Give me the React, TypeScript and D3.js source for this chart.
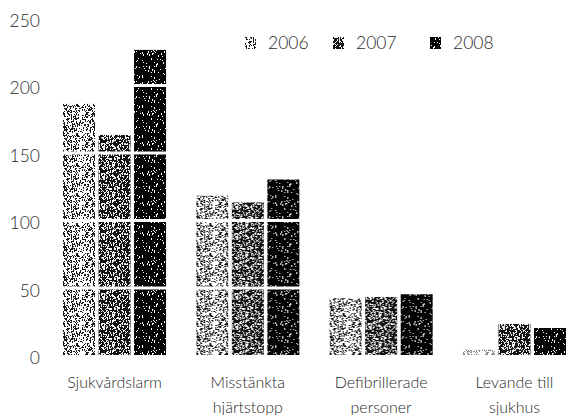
import React, { useEffect, useRef } from "react";
import * as d3 from "d3";

// Categories (label lines) and series
const categories = ["Sjukvårdslarm", "Misstänkta hjärtstopp", "Defibrillerade personer", "Levande till sjukhus"];
const categoryLines = [["Sjukvårdslarm"], ["Misstänkta", "hjärtstopp"], ["Defibrillerade", "personer"], ["Levande till", "sjukhus"]];
const years = ["2006", "2007", "2008"];
const values2006 = [186, 118, 42, 4];
const values2007 = [163, 113, 43, 23];
const values2008 = [226, 130, 45, 20];
const yTicks = [0, 50, 100, 150, 200, 250];

const W = 572;
const H = 415;

// texture settings per series: background, speckle colour, speckle density
const textures = [
  { bg: "#ffffff", fg: "#1a1a1a", density: 0.3 },
  { bg: "#141414", fg: "#f4f4f4", density: 0.3 },
  { bg: "#030303", fg: "#ffffff", density: 0.07 },
];

// small deterministic hash for the speckle texture
function hash(i: number, seed: number) {
  const x = Math.sin(i * 12.9898 + seed * 78.233) * 43758.5453;
  return x - Math.floor(x);
}

export default function App() {
  const svgRef = useRef<SVGSVGElement>(null);

  useEffect(() => {
    if (!svgRef.current) return;
    const svg = d3.select(svgRef.current);
    svg.selectAll("*").remove();

    const font = "Lato, 'Open Sans', sans-serif";
    const textColor = "#2a2a2a";

    const series = [values2006, values2007, values2008];

    const x0 = d3.scaleBand<string>()
      .domain(categories)
      .range([48, 581])
      .paddingInner(0.227)
      .paddingOuter(0.1125);

    const x1 = d3.scaleBand<string>()
      .domain(years)
      .range([0, x0.bandwidth()])
      .paddingInner(0.1);

    const y = d3.scaleLinear().domain([0, 250]).range([355, 17.5]);

    // textures
    const defs = svg.append("defs");
    const tile = 30;
    textures.forEach((t, si) => {
      const p = defs.append("pattern")
        .attr("id", `tex${si}`)
        .attr("patternUnits", "userSpaceOnUse")
        .attr("width", tile)
        .attr("height", tile);
      p.append("rect").attr("width", tile).attr("height", tile).attr("fill", t.bg);
      for (let yy = 0; yy < tile; yy++) {
        for (let xx = 0; xx < tile; xx++) {
          const r = hash(yy * tile + xx, si + 1);
          if (r < t.density) {
            p.append("rect")
              .attr("x", xx)
              .attr("y", yy)
              .attr("width", 1)
              .attr("height", hash(yy * tile + xx, si + 7) < 0.3 ? 2 : 1)
              .attr("fill", t.fg);
          }
        }
      }
    });

    // y axis labels
    svg.append("g")
      .selectAll("text")
      .data(yTicks)
      .enter()
      .append("text")
      .attr("x", 40)
      .attr("y", d => y(d) + 3)
      .attr("dy", "0.35em")
      .attr("text-anchor", "end")
      .attr("font-family", font)
      .attr("font-weight", 300)
      .attr("font-size", "17.5px")
      .attr("fill", textColor)
      .text(d => d);

    // bars
    const groups = svg.append("g")
      .selectAll("g")
      .data(categories)
      .enter()
      .append("g")
      .attr("transform", d => `translate(${x0(d)},0)`);

    groups.selectAll("rect")
      .data((_, ci) => years.map((yr, si) => ({ yr, si, v: series[si][ci] })))
      .enter()
      .append("rect")
      .attr("x", d => x1(d.yr) as number)
      .attr("y", d => y(d.v))
      .attr("width", x1.bandwidth())
      .attr("height", d => y(0) - y(d.v))
      .attr("fill", d => `url(#tex${d.si})`)
      .attr("opacity", d => (d.v < 10 && d.si === 0 ? 0.5 : 1));

    // white gridlines over the bars
    svg.append("g")
      .selectAll("line")
      .data(yTicks.filter(t => t > 0 && t < 250))
      .enter()
      .append("line")
      .attr("x1", 50)
      .attr("x2", W)
      .attr("y1", d => y(d) + 0.5)
      .attr("y2", d => y(d) + 0.5)
      .attr("stroke", "#fff")
      .attr("stroke-width", 3);

    // category labels
    const labels = svg.append("g")
      .selectAll("text")
      .data(categories)
      .enter()
      .append("text")
      .attr("text-anchor", "middle")
      .attr("font-family", font)
      .attr("font-weight", 300)
      .attr("font-size", "16px")
      .attr("fill", textColor);

    labels.each(function (d, i) {
      const cx = (x0(d) as number) + x0.bandwidth() / 2;
      categoryLines[i].forEach((line, li) => {
        d3.select(this)
          .append("tspan")
          .attr("x", cx)
          .attr("y", 388 + li * 25)
          .text(line);
      });
    });

    // legend
    const legendX = [245, 333, 430];
    const legend = svg.append("g")
      .selectAll("g")
      .data(years)
      .enter()
      .append("g")
      .attr("transform", (_, i) => `translate(${legendX[i]},43)`);

    legend.append("rect")
      .attr("x", 0)
      .attr("y", -6)
      .attr("width", 11)
      .attr("height", 12)
      .attr("fill", (_, i) => `url(#tex${i})`);

    legend.append("text")
      .attr("x", 23)
      .attr("y", 0)
      .attr("dy", "0.35em")
      .attr("font-family", font)
      .attr("font-weight", 300)
      .attr("font-size", "17.5px")
      .attr("fill", textColor)
      .text(d => d);
  }, []);

  return (
    <svg
      ref={svgRef}
      width={W}
      height={H}
      style={{ position: "absolute", left: 0, top: 0, background: "#fff" }}
    />
  );
}
